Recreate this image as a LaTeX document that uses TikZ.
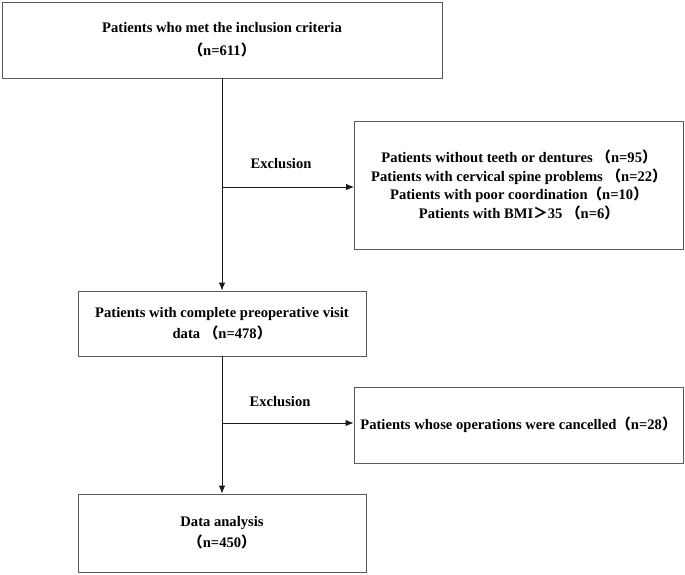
\documentclass[tikz,border=0pt]{standalone}
\usepackage{fontspec}
\setmainfont{Liberation Serif}
\newfontfamily\cjk{Noto Sans CJK SC}
\usetikzlibrary{arrows.meta}

\newcommand{\wlp}{{\cjk （}}
\newcommand{\wrp}{{\cjk ）}}
\newcommand{\wgt}{{\cjk ＞}}

\tikzset{
  box/.style={draw=black!65, line width=0.9pt, rectangle, align=center,
    font=\bfseries\fontsize{14.6}{21}\selectfont, inner sep=0pt},
  flow/.style={draw=black!90, line width=0.9pt, -{Latex[length=8pt,width=6.5pt]}},
  tag/.style={font=\bfseries\fontsize{14.6}{16}\selectfont}
}

\begin{document}
\begin{tikzpicture}[x=1pt, y=-1pt]
  \useasboundingbox (0,0) rectangle (685,574);
  % Main boxes
  \node[box, minimum width=440, minimum height=76,
    font=\bfseries\fontsize{14.6}{23}\selectfont] (included) at (222,40)
    {Patients who met the inclusion criteria\\ \wlp n=611\wrp};
  \node[box, minimum width=288, minimum height=65] (complete) at (222,323.5)
    {Patients with complete preoperative visit\\ data \wlp n=478\wrp};
  \node[box, minimum width=288, minimum height=78] (analysis) at (222,533)
    {Data analysis\\ \wlp n=450\wrp};
  % Exclusion boxes
  \node[box, minimum width=329, minimum height=128,
    font=\bfseries\fontsize{14.6}{18.5}\selectfont] (excluded1) at (519,185)
    {Patients without teeth or dentures \wlp n=95\wrp\\
     Patients with cervical spine problems \wlp n=22\wrp\\
     Patients with poor coordination\wlp n=10\wrp\\
     Patients with BMI\wgt 35 \wlp n=6\wrp};
  \node[box, minimum width=329, minimum height=76] (excluded2) at (518.5,425)
    {Patients whose operations were cancelled\wlp n=28\wrp};
  % Branch points
  \coordinate (split1) at (222,187);
  \coordinate (split2) at (222,423);
  % Connectors
  \draw[flow] (included.south) -- (complete.north);
  \draw[flow] (complete.south) -- (analysis.north);
  \draw[flow] (split1) -- (split1 -| excluded1.west);
  \draw[flow] (split2) -- (split2 -| excluded2.west);
  % Labels
  \node[tag] (label1) at (281,164) {Exclusion};
  \node[tag] (label2) at (280,402) {Exclusion};
\end{tikzpicture}
\end{document}
